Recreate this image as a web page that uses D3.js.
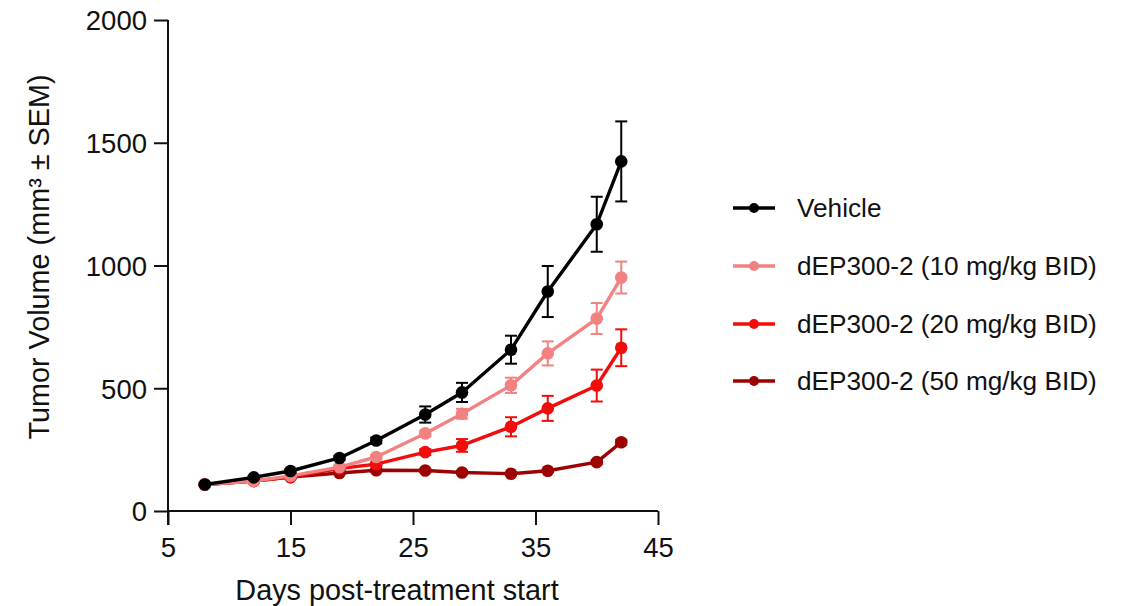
<!DOCTYPE html>
<html>
<head>
<meta charset="utf-8">
<script src="https://cdn.jsdelivr.net/npm/d3@7"></script>
<style>
  html, body { margin: 0; padding: 0; background: #fff; }
  svg { display: block; font-family: "Liberation Sans", Arial, Helvetica, sans-serif; }
</style>
</head>
<body>
<svg id="chart" width="1127" height="606"></svg>
<script>
// Study days on which tumours were measured
const days = [8, 12, 15, 19, 22, 26, 29, 33, 36, 40, 42];

// Mean tumour volume (mm³) per group
const vehicleMean = [108, 137, 163, 216, 287, 393, 483, 657, 894, 1168, 1424];
const dose10Mean  = [108, 122, 143, 179, 220, 316, 396, 512, 642, 784, 951];
const dose20Mean  = [108, 122, 138, 173, 191, 240, 267, 343, 418, 511, 665];
const dose50Mean  = [108, 122, 138, 155, 166, 165, 157, 152, 164, 199, 280];

// SEM per group
const vehicleSem = [4, 6, 7, 9, 12, 33, 39, 57, 104, 112, 163];
const dose10Sem  = [3, 4, 5, 6, 8, 12, 20, 31, 49, 63, 65];
const dose20Sem  = [3, 4, 5, 6, 8, 12, 26, 39, 51, 65, 75];
const dose50Sem  = [3, 3, 4, 4, 5, 5, 5, 5, 6, 8, 10];

const seriesNames  = ["Vehicle", "dEP300-2 (10 mg/kg BID)", "dEP300-2 (20 mg/kg BID)", "dEP300-2 (50 mg/kg BID)"];
const seriesColors = ["#000000", "#f28282", "#f20d0d", "#9c0202"];

const xTicks = [5, 15, 25, 35, 45];
const yTicks = [0, 500, 1000, 1500, 2000];

const series = seriesNames.map((name, i) => ({
  name,
  color: seriesColors[i],
  mean: [vehicleMean, dose10Mean, dose20Mean, dose50Mean][i],
  sem: [vehicleSem, dose10Sem, dose20Sem, dose50Sem][i]
}));

const svg = d3.select("#chart");

const x = d3.scaleLinear().domain([5, 45]).range([168, 658]);
const y = d3.scaleLinear().domain([0, 2000]).range([511, 20]);

// Axes
const xAxis = svg.append("g")
  .attr("transform", `translate(0,${y(0)})`)
  .call(d3.axisBottom(x).tickValues(xTicks).tickFormat(d3.format("d")).tickSize(14).tickPadding(6));
const yAxis = svg.append("g")
  .attr("transform", `translate(${x(5)},0)`)
  .call(d3.axisLeft(y).tickValues(yTicks).tickFormat(d3.format("d")).tickSize(14).tickPadding(7));

[xAxis, yAxis].forEach(g => {
  g.select(".domain").attr("stroke", "#111").attr("stroke-width", 2);
  g.selectAll(".tick line").attr("stroke", "#111").attr("stroke-width", 2);
  g.selectAll(".tick text")
    .attr("fill", "#111")
    .style("font-size", "27.5px")
    .style("font-family", "'Liberation Sans', Arial, sans-serif");
});
// axis lines run exactly between the end ticks
xAxis.select(".domain").attr("d", `M${x(5)},0H${x(45)}`);
yAxis.select(".domain").attr("d", `M0,${y(2000)}V${y(0) + 14}`);
xAxis.selectAll(".tick text").attr("dy", "0.95em");
yAxis.selectAll(".tick text").attr("dy", "0.36em");

// Axis titles
svg.append("text")
  .attr("x", 397).attr("y", 600)
  .attr("text-anchor", "middle")
  .style("font-size", "28.8px")
  .attr("fill", "#111")
  .text("Days post-treatment start");

svg.append("text")
  .attr("transform", "translate(49,257) rotate(-90)")
  .attr("text-anchor", "middle")
  .style("font-size", "28.8px")
  .attr("fill", "#111")
  .text("Tumor Volume (mm³ ± SEM)");

// Series: draw highest dose first so vehicle sits on top
const line = d3.line().x(d => x(d.day)).y(d => y(d.v));
const drawOrder = [3, 2, 1, 0];

drawOrder.forEach(i => {
  const s = series[i];
  const pts = days.map((day, j) => ({ day, v: s.mean[j], e: s.sem[j] }));
  const g = svg.append("g");

  // error bars
  const eb = g.selectAll(".eb").data(pts).enter().append("g");
  eb.append("line")
    .attr("x1", d => x(d.day)).attr("x2", d => x(d.day))
    .attr("y1", d => y(d.v + d.e)).attr("y2", d => y(d.v - d.e))
    .attr("stroke", s.color).attr("stroke-width", 2);
  [1, -1].forEach(sign => {
    eb.append("line")
      .attr("x1", d => x(d.day) - 6).attr("x2", d => x(d.day) + 6)
      .attr("y1", d => y(d.v + sign * d.e)).attr("y2", d => y(d.v + sign * d.e))
      .attr("stroke", s.color).attr("stroke-width", 2);
  });

  g.append("path")
    .datum(pts)
    .attr("d", line)
    .attr("fill", "none")
    .attr("stroke", s.color)
    .attr("stroke-width", 3.4)
    .attr("stroke-linejoin", "round");

  g.selectAll("circle").data(pts).enter().append("circle")
    .attr("cx", d => x(d.day)).attr("cy", d => y(d.v))
    .attr("r", 6.3)
    .attr("fill", s.color);
});

// Legend
const legendRows = [208, 266, 324, 381];
series.forEach((s, i) => {
  const g = svg.append("g").attr("transform", `translate(0,${legendRows[i]})`);
  g.append("line").attr("x1", 733).attr("x2", 775).attr("y1", 0).attr("y2", 0)
    .attr("stroke", s.color).attr("stroke-width", 3.4);
  g.append("circle").attr("cx", 754).attr("cy", 0).attr("r", 5).attr("fill", s.color);
  g.append("text").attr("x", 797).attr("y", 0).attr("dy", "0.36em")
    .style("font-size", "26.2px").attr("fill", "#111")
    .text(s.name);
});
</script>
</body>
</html>
